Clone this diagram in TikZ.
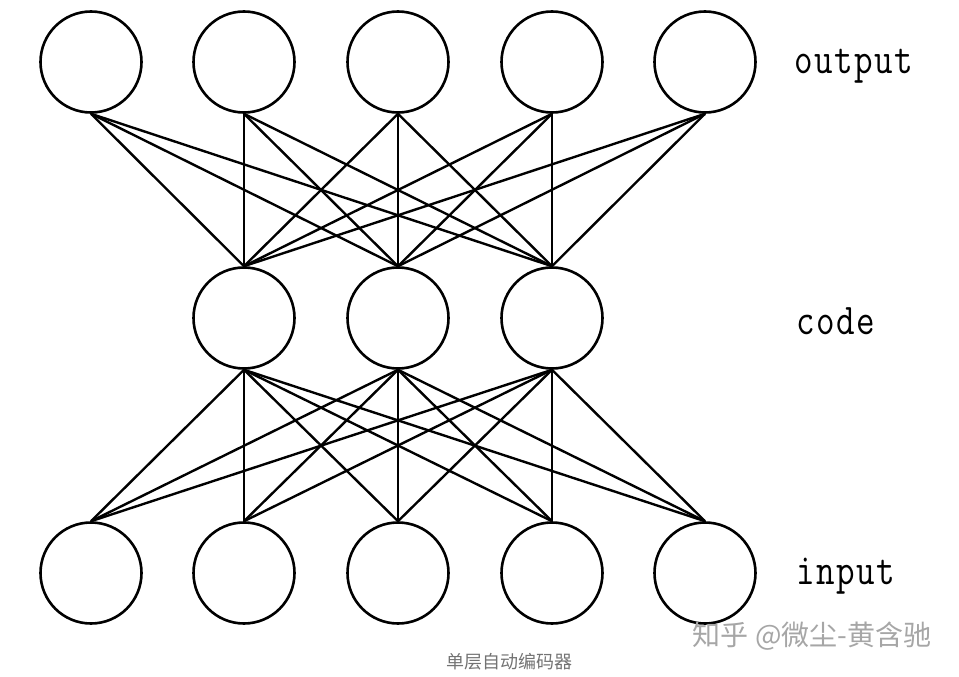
\documentclass[tikz,border=0pt]{standalone}
\usepackage{fontspec}
\newfontfamily\labelfont[LetterSpace=4.4]{Latin Modern Mono}
\newfontfamily\cjk{Noto Sans CJK SC}
\newcommand{\tallword}[1]{\scalebox{1}[1.22]{#1}}
\begin{document}
\begin{tikzpicture}[x=1pt,y=-1pt,
  neuron/.style={circle,draw,line width=2.6pt,minimum size=101pt,inner sep=0pt},
  link/.style={line width=2.4pt},
  layerlabel/.style={anchor=west,inner sep=0pt,font=\labelfont\fontsize{36}{38}\selectfont}]
\useasboundingbox (0,0) rectangle (959,677);
\foreach \i/\x in {1/91,2/244,3/398,4/552,5/705}{
  \node[neuron] (o\i) at (\x,62) {};
  \node[neuron] (i\i) at (\x,573) {};
}
\foreach \j/\x in {1/244,2/398,3/552}{
  \node[neuron] (c\j) at (\x,318) {};
}
\foreach \i in {1,...,5}{
  \foreach \j in {1,2,3}{
    \draw[link] (o\i.south) -- (c\j.north);
    \draw[link] (c\j.south) -- (i\i.north);
  }
}
\node[layerlabel] (lo) at (794,66) {\tallword{output}};
\node[layerlabel] (lc) at (796,321) {\tallword{code}};
\node[layerlabel] (li) at (796,576) {\tallword{input}};
\node[inner sep=0pt,text=black!35,font=\cjk\fontsize{28}{30}\selectfont] (wm) at (812,636) {知乎 @微尘-黄含驰};
\node[inner sep=0pt,text=black!55,font=\cjk\fontsize{18}{20}\selectfont] (cap) at (509,662) {单层自动编码器};
\end{tikzpicture}
\end{document}
